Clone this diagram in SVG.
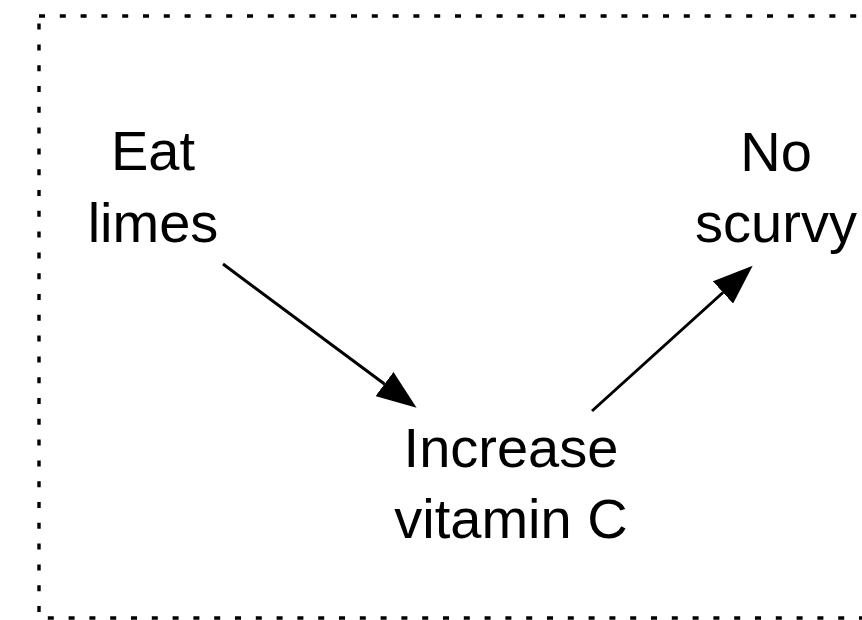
<svg xmlns="http://www.w3.org/2000/svg" width="862" height="620" viewBox="0 0 862 620">
  <style>
    .lbl { font-family: "Liberation Sans", Arial, Helvetica, sans-serif; font-size: 56px; fill: #000; text-anchor: middle; }
    .edge { stroke: #000; stroke-width: 3; fill: none; }
    .frame { fill: none; stroke: #000; stroke-width: 3.4; stroke-dasharray: 6 14.8; }
  </style>
  <defs>
    <marker id="arrow" viewBox="0 0 40 30" refX="0" refY="15" markerWidth="40" markerHeight="30" markerUnits="userSpaceOnUse" orient="auto">
      <path d="M0,0 L40,15 L0,30 Z" fill="#000"/>
    </marker>
  </defs>
  <rect class="frame" x="39" y="16" width="840" height="602"/>
  <g id="connectors">
    <line class="edge" x1="223" y1="264" x2="384.5" y2="384" marker-end="url(#arrow)"/>
    <line class="edge" x1="592" y1="411" x2="723" y2="292.5" marker-end="url(#arrow)"/>
  </g>
  <g id="eat-limes">
    <text class="lbl" x="153" y="170">Eat</text>
    <text class="lbl" x="153" y="242">limes</text>
  </g>
  <g id="no-scurvy">
    <text class="lbl" x="776" y="171">No</text>
    <text class="lbl" x="776" y="242">scurvy</text>
  </g>
  <g id="increase-vitamin-c">
    <text class="lbl" x="511" y="467">Increase</text>
    <text class="lbl" x="511" y="538">vitamin C</text>
  </g>
</svg>
